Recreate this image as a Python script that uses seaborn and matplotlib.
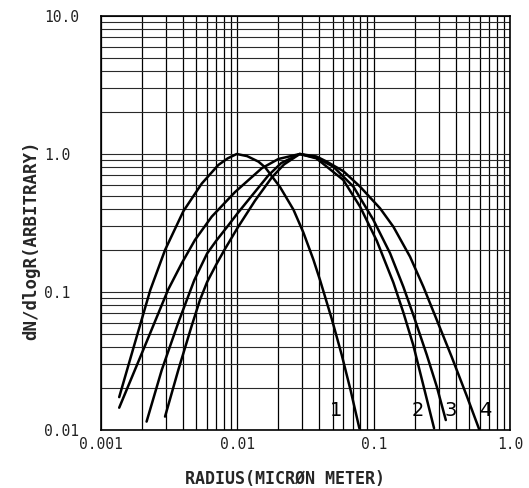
import numpy as np
import pandas as pd
import matplotlib
matplotlib.use("Agg")
import matplotlib.pyplot as plt
import seaborn as sns

# curves (radius in micron, dN/dlogR normalised)
c1_r = [0.00136, 0.00181, 0.00230, 0.00295, 0.00402, 0.00548, 0.00725, 0.0085, 0.0099,
        0.0118, 0.0143, 0.0160, 0.0206, 0.0258, 0.0305, 0.0361, 0.0404, 0.0493, 0.0583, 0.0679, 0.0785]
c1_v = [0.0173, 0.0459, 0.1034, 0.2015, 0.385, 0.610, 0.832, 0.93, 1.0,
        0.965, 0.88, 0.80, 0.575, 0.395, 0.270, 0.172, 0.1222, 0.0637, 0.0350, 0.0192, 0.0103]

c2_r = [0.00295, 0.00369, 0.00463, 0.00532, 0.0060, 0.0070, 0.0080, 0.0100, 0.0135, 0.0179, 0.022, 0.0287,
        0.038, 0.0599, 0.0795, 0.1054, 0.1395, 0.1651, 0.1955, 0.2316, 0.2773]
c2_v = [0.0125, 0.0272, 0.057, 0.0875, 0.118, 0.158, 0.200, 0.290, 0.460, 0.676, 0.84, 1.0,
        0.93, 0.648, 0.415, 0.235, 0.117, 0.071, 0.041, 0.021, 0.0103]

c3_r = [0.00216, 0.00279, 0.00369, 0.00484, 0.0060, 0.0070, 0.0085, 0.0100, 0.0120, 0.0169, 0.021, 0.0287,
        0.038, 0.0506, 0.0710, 0.0995, 0.1319, 0.1651, 0.1955, 0.2453, 0.2904, 0.3381]
c3_v = [0.0115, 0.0272, 0.060, 0.1222, 0.190, 0.235, 0.300, 0.370, 0.462, 0.700, 0.86, 1.0,
        0.94, 0.809, 0.580, 0.333, 0.191, 0.109, 0.068, 0.035, 0.0206, 0.0118]

c4_r = [0.00136, 0.00213, 0.00310, 0.00391, 0.00489, 0.00649, 0.00962, 0.0151, 0.020, 0.0287,
        0.038, 0.0453, 0.060, 0.0795, 0.1114, 0.1395, 0.1849, 0.2316, 0.2904, 0.3729, 0.4844, 0.5966]
c4_v = [0.0145, 0.0421, 0.1034, 0.1614, 0.2383, 0.3515, 0.530, 0.788, 0.92, 1.0,
        0.96, 0.88, 0.75, 0.580, 0.404, 0.297, 0.180, 0.109, 0.0627, 0.0340, 0.0174, 0.0100]

curve_names = ["1", "2", "3", "4"]
label_r = [0.053, 0.209, 0.368, 0.657]
label_v = 0.0139

x_ticks = [0.001, 0.01, 0.1, 1.0]
x_ticklabels = ["0.001", "0.01", "0.1", "1.0"]
y_ticks = [0.01, 0.1, 1.0, 10.0]
y_ticklabels = ["0.01", "0.1", "1.0", "10.0"]

frames = []
for name, r, v in zip(curve_names, [c1_r, c2_r, c3_r, c4_r], [c1_v, c2_v, c3_v, c4_v]):
    frames.append(pd.DataFrame({"radius": r, "dn": v, "curve": name}))
df = pd.concat(frames, ignore_index=True)

sns.set_theme(style="white")
plt.rcParams["font.family"] = ["DejaVu Sans Mono", "DejaVu Sans"]

fig = plt.figure(figsize=(5.29, 4.88), dpi=100)
ax = fig.add_axes([0.1909, 0.1189, 0.7732, 0.8483])

ax.set_xscale("log")
ax.set_yscale("log")

sns.lineplot(data=df, x="radius", y="dn", units="curve", estimator=None,
             color="black", linewidth=1.8, ax=ax, legend=False)

ax.set_xlim(0.001, 1.0)
ax.set_ylim(0.01, 10.0)

ax.grid(True, which="both", axis="x", color="black", linewidth=0.9)
ax.grid(True, which="both", axis="y", color="#2a2a2a", linewidth=0.8)
ax.set_axisbelow(True)

for s in ax.spines.values():
    s.set_color("black")
    s.set_linewidth(1.2)

ax.set_xticks(x_ticks)
ax.set_xticklabels(x_ticklabels)
ax.set_yticks(y_ticks)
ax.set_yticklabels(y_ticklabels)
ax.tick_params(axis="both", which="both", length=0, labelsize=10.5, colors="#222222")
ax.tick_params(axis="x", pad=5)
ax.tick_params(axis="y", pad=41)
for t in ax.get_yticklabels():
    t.set_horizontalalignment("left")

for name, r in zip(curve_names, label_r):
    ax.text(r, label_v, name, ha="center", va="center", fontsize=14,
            family=["Liberation Sans Narrow", "DejaVu Sans"], color="black")

ax.set_xlabel("RADIUS(MICRØN METER)", fontsize=12, fontweight="bold")
ax.set_ylabel("dN/dlogR(ARBITRARY)", fontsize=12.5, fontweight="bold")
ax.xaxis.set_label_coords(0.45, -0.097)
ax.yaxis.set_label_coords(-0.149, 0.459)

fig.savefig("out.png", dpi=100)
